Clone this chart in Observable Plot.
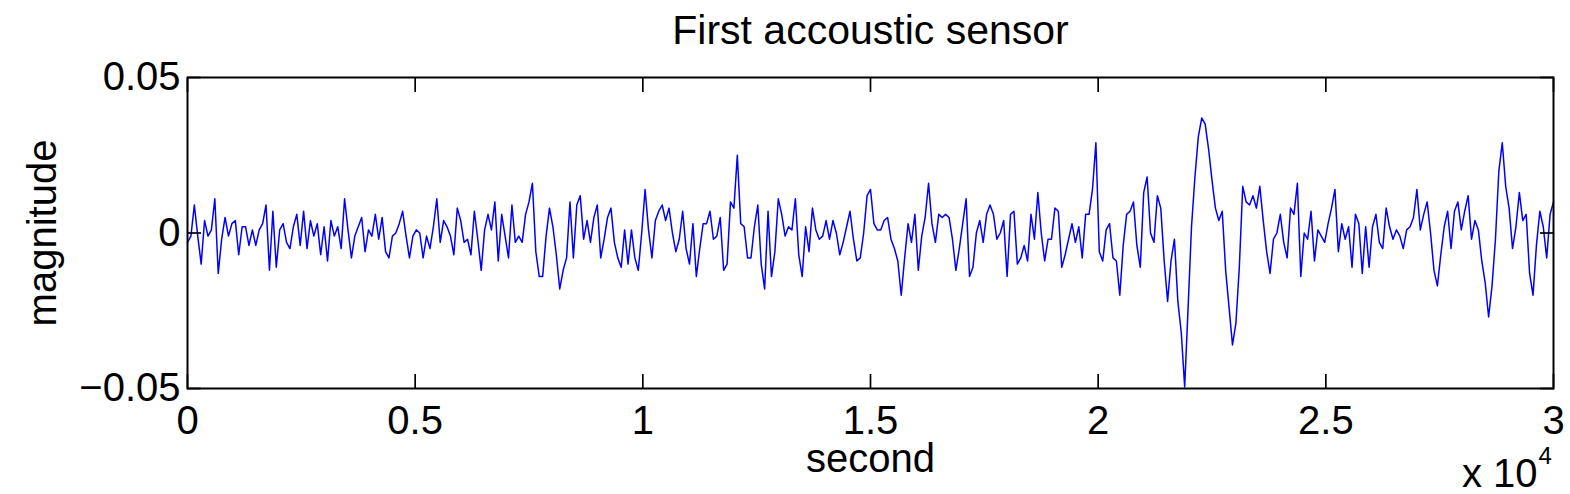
<!DOCTYPE html>
<html>
<head>
<meta charset="utf-8">
<script src="https://cdn.jsdelivr.net/npm/d3@7"></script>
<script src="https://cdn.jsdelivr.net/npm/@observablehq/plot@0.6"></script>
<style>
  html, body { margin: 0; padding: 0; background: #ffffff; }
  svg { display: block; }
</style>
</head>
<body>
<div id="chart"></div>
<script>
// Readings of the trace, in units of 1e-3 (magnitude), one every 75 seconds.
const stepSeconds = 75;
const magnitudeA = [-3,-1,9,-1,-10,4,-1,1,11,-13,-2,5,-1,3,4,-7,2,2,-4,1,-4,1,3,9,-12,7,-11,1,3,-3,-5,2,6,-4,7,-5,4,-1,3,-7,2,-9,4,-1,2,-5,11,1,-8,-1,2,5,-6,1,-1,6,-2,5];
const magnitudeB = [-6,-8,-1,0,3,7,-1,-8,-1,1,0,-8,-1,-5,2,11,-3,4,2,-1,-7,8,4,-3,-2,-7,7,-2,-12,1,6,1,10,-9,6,-1,-8,9,-3,-1,-3,6,10,16,-6,-14,-14,-1,8,2,-7,-18,-12,-8,10,-8,9,12];
const magnitudeC = [-2,4,-3,5,9,-8,-2,5,8,-3,-8,-11,1,-10,1,-8,-12,0,14,1,-8,4,7,9,4,8,0,-6,-2,7,-5,-10,3,-14,-5,3,3,7,-2,-1,5,-12,-10,10,8,25,3,2,-8,-8,2,9,-10,-18,7,-14,-6];
const magnitudeD = [11,6,-1,2,1,11,-7,-14,2,-6,8,1,-2,-1,4,-2,4,0,-7,-3,2,7,-2,-9,-8,0,12,14,3,1,1,4,5,-2,-5,-9,-20,-8,3,-3,6,-12,-1,5,16,3,-3,6,5,6,5,-2,-12,-5,3,11,-14];
const magnitudeE = [-11,0,4,-3,6,9,6,-2,0,4,-14,6,7,-10,-8,-4,-9,6,-2,13,0,-9,-2,-2,8,7,-11,-7,-2,3,-3,2,-8,6,6,14,29,-6,-9,1,3,-8,-9,-20,-4,6,7,10,-4,-11,13,18,0,-3,12,8,-9];
const magnitudeF = [-22,-9,-2,-22,-32,-49.5,-24,2,18,31,37,35,27,17,8,4,7,-12,-24,-36,-29,-11,15,10,9,12,8,15,4,-6,-13,-2,0,6,-3,-8,8,6,16,-14,0,-2,7,-9,1,-1,-3,3,8,14,-6,3,-2,2,-11,6,3];
const magnitudeG = [-13,2,-11,2,6,-3,-5,8,2,-2,1,-1,-5,1,2,5,14,1,6,10,0,-12,-17,-7,2,7,-5,7,10,1,7,12,-2,4,1,-9,-16,-27,-17,-2,20,29,15,8,-5,2,13,4,6,-13,-20,-4,7,2,-8,6,10];

const xTicks = [0, 5000, 10000, 15000, 20000, 25000, 30000];
const xTickLabels = ["0", "0.5", "1", "1.5", "2", "2.5", "3"];
const yTicks = [-0.05, 0, 0.05];
const yTickLabels = ["\u22120.05", "0", "0.05"];

const titleText = "First accoustic sensor";
const xLabel = "second";
const yLabel = "magnitude";
const xExponentBase = "x 10";
const xExponent = "4";

const samples = [magnitudeA, magnitudeB, magnitudeC, magnitudeD, magnitudeE, magnitudeF, magnitudeG]
  .flat()
  .map((v, i) => ({second: i * stepSeconds, magnitude: v / 1000}));

const xLabelOf = new Map(xTicks.map((t, i) => [t, xTickLabels[i]]));
const yLabelOf = new Map(yTicks.map((t, i) => [t, yTickLabels[i]]));

const chart = Plot.plot({
  width: 1570,
  height: 494,
  marginLeft: 187,
  marginRight: 17,
  marginTop: 77,
  marginBottom: 106,
  style: {
    fontFamily: "'Liberation Sans', Arial, Helvetica, sans-serif",
    fontSize: "40px",
    color: "black",
    background: "white",
    overflow: "hidden"
  },
  x: {domain: [0, 30000]},
  y: {domain: [-0.05, 0.05]},
  marks: [
    Plot.lineY(samples, {x: "second", y: "magnitude", stroke: "#0000ff", strokeWidth: 1.5}),
    Plot.frame({stroke: "black", strokeWidth: 2}),
    Plot.axisX(xTicks, {anchor: "bottom", tickSize: -14, tickPadding: 31, strokeWidth: 1.7,
      tickFormat: (d) => xLabelOf.get(d), label: null}),
    Plot.axisX(xTicks, {anchor: "top", tickSize: -14, strokeWidth: 1.7,
      tickFormat: () => "", label: null}),
    Plot.axisY(yTicks, {anchor: "left", tickSize: -14, tickPadding: 21, strokeWidth: 1.7,
      tickFormat: (d) => yLabelOf.get(d), label: null}),
    Plot.axisY(yTicks, {anchor: "right", tickSize: -14, strokeWidth: 1.7,
      tickFormat: () => "", label: null}),
    Plot.text([titleText], {text: (d) => d, frameAnchor: "top", textAnchor: "middle", lineAnchor: "middle", dy: -47, fontSize: 41, fill: "black"}),
    Plot.text([xLabel], {text: (d) => d, frameAnchor: "bottom", textAnchor: "middle", lineAnchor: "middle", dy: 71, fill: "black"}),
    Plot.text([yLabel], {text: (d) => d, frameAnchor: "left", textAnchor: "middle", lineAnchor: "middle", rotate: -90, dx: -144, fill: "black"}),
    Plot.text([xExponentBase], {text: (d) => d, frameAnchor: "bottom-right", textAnchor: "end", lineAnchor: "middle", dx: -16, dy: 86, fill: "black"}),
    Plot.text([xExponent], {text: (d) => d, frameAnchor: "bottom-right", textAnchor: "start", lineAnchor: "middle", dx: -15, dy: 68, fontSize: 24, fill: "black"})
  ]
});

document.getElementById("chart").append(chart);
</script>
</body>
</html>
